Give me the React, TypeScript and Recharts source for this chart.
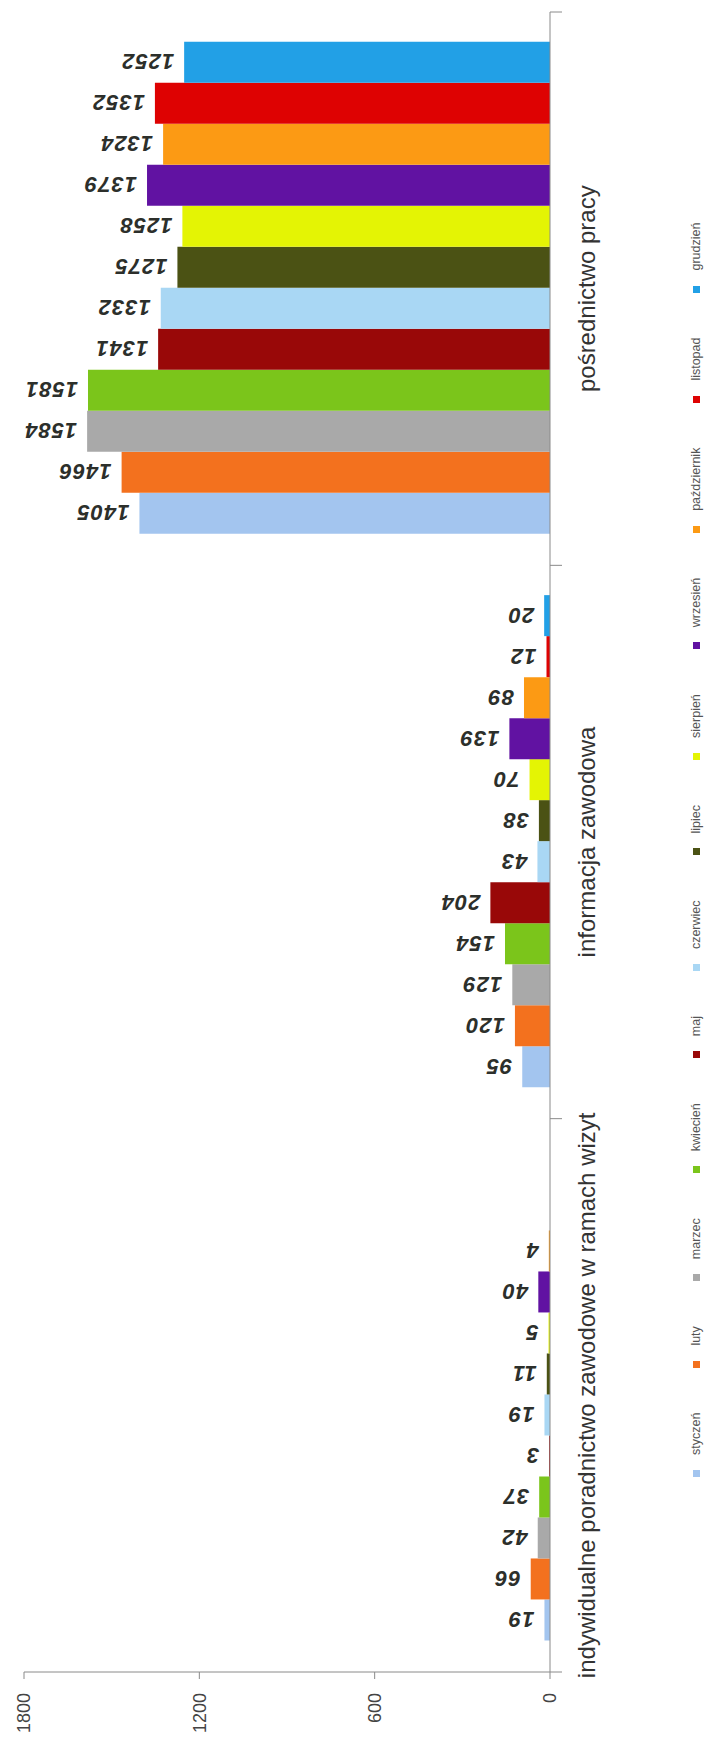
import React from 'react';
import { BarChart, Bar, XAxis, YAxis, Legend, LabelList } from 'recharts';

const categories = [
  'indywidualne poradnictwo zawodowe w ramach wizyt',
  'informacja zawodowa',
  'pośrednictwo pracy',
];
const months = [
  'styczeń', 'luty', 'marzec', 'kwiecień', 'maj', 'czerwiec',
  'lipiec', 'sierpień', 'wrzesień', 'październik', 'listopad', 'grudzień',
];
const monthColors = [
  '#a3c5ef', '#f3711e', '#a9a9a9', '#7bc51b', '#990808', '#a9d7f4',
  '#4b5214', '#e4f404', '#6112a2', '#fc9a14', '#de0202', '#22a0e6',
];
const poradnictwo = [19, 66, 42, 37, 3, 19, 11, 5, 40, 4, null, null];
const informacja = [95, 120, 129, 154, 204, 43, 38, 70, 139, 89, 12, 20];
const posrednictwo = [1405, 1466, 1584, 1581, 1341, 1332, 1275, 1258, 1379, 1324, 1352, 1252];
const valueTicks = [0, 600, 1200, 1800];

const seriesByCategory = [poradnictwo, informacja, posrednictwo];
const data = categories.map((name, i) => {
  const row: Record<string, string | number | null> = { name };
  months.forEach((_, j) => {
    row[`m${j}`] = seriesByCategory[i][j];
  });
  return row;
});

// the chart is drawn upright and then turned a quarter turn left, like the scan
const CHART_W = 1738;
const CHART_H = 713;
const Y_AXIS_W = 66;
const X_AXIS_H = 60;
const MARGIN = { top: 24, right: 12, bottom: 103, left: 0 };
const BAND = (CHART_W - Y_AXIS_W - MARGIN.left - MARGIN.right) / categories.length;
const FONT = '"Liberation Sans", Arial, sans-serif';
const AXIS_COLOR = '#8a8a8a';
const CAT_TICK = 12;
const CAT_MARGIN = 16;

const CategoryTick = (props: any) => {
  const { x, y, payload, index } = props;
  const axisY = y - CAT_TICK - CAT_MARGIN;
  return (
    <g>
      <line x1={x - BAND / 2} x2={x - BAND / 2} y1={axisY} y2={axisY + CAT_TICK} stroke={AXIS_COLOR} />
      {index === categories.length - 1 && (
        <line x1={x + BAND / 2} x2={x + BAND / 2} y1={axisY} y2={axisY + CAT_TICK} stroke={AXIS_COLOR} />
      )}
      <text x={x} y={y} dy="0.71em" textAnchor="middle" fontSize={24} fill="#333" fontFamily={FONT}>
        {payload.value}
      </text>
    </g>
  );
};

const ValueLabel = (props: any) => {
  const vb = props.viewBox ?? props;
  const x = vb.x ?? props.x;
  const y = vb.y ?? props.y;
  const width = vb.width ?? props.width;
  if (props.value == null || x == null) return null;
  const cx = x + width / 2;
  const ty = y - 10;
  return (
    <text
      x={cx}
      y={ty}
      transform={`rotate(-90 ${cx} ${ty})`}
      textAnchor="start"
      dy="0.36em"
      fontSize={22}
      fontWeight="bold"
      fontStyle="italic"
      letterSpacing={1}
      fill="#2c2f2b"
      fontFamily={FONT}
    >
      {props.value}
    </text>
  );
};

// keep the legend in month order (recharts sorts it by name otherwise)
const renderLegend = (props: any) => {
  const items = [...(props.payload ?? [])].sort(
    (a: any, b: any) => months.indexOf(a.value) - months.indexOf(b.value)
  );
  return (
    <div
      style={{
        position: 'absolute', left: 0, top: 0, display: 'flex', alignItems: 'center',
        whiteSpace: 'nowrap', fontFamily: FONT, fontSize: 12.5, color: '#555', lineHeight: '15px',
      }}
    >
      {items.map((item: any) => (
        <span key={item.value} style={{ display: 'flex', alignItems: 'center', marginRight: 45 }}>
          <span style={{ display: 'inline-block', width: 7, height: 7, background: item.color, marginRight: 15 }} />
          {item.value}
        </span>
      ))}
    </div>
  );
};

export default function App() {
  return (
    <div style={{ position: 'absolute', left: 0, top: 0, width: 713, height: 1738, overflow: 'hidden', background: '#fff' }}>
      <div
        style={{
          position: 'absolute', left: 0, top: 0, width: CHART_W, height: CHART_H,
          transformOrigin: '0 0', transform: `translate(0px, ${CHART_W}px) rotate(-90deg)`,
          fontFamily: FONT,
        }}
      >
        <BarChart width={CHART_W} height={CHART_H} data={data} margin={MARGIN} barCategoryGap="5.7%" barGap={0}>
          <XAxis
            dataKey="name"
            height={X_AXIS_H}
            interval={0}
            tickLine={false}
            tickSize={CAT_TICK}
            tickMargin={CAT_MARGIN}
            stroke={AXIS_COLOR}
            tick={(p: any) => <CategoryTick {...p} />}
          />
          <YAxis
            type="number"
            domain={[0, 1800]}
            ticks={valueTicks}
            interval={0}
            width={Y_AXIS_W}
            tickSize={7}
            tickMargin={14}
            stroke={AXIS_COLOR}
            tick={{ fontSize: 18, fill: '#444', fontFamily: FONT }}
          />
          <Legend
            content={renderLegend}
            wrapperStyle={{ left: 261, top: 689, width: 0, height: 0, bottom: 'auto', right: 'auto' }}
          />
          {months.map((m, j) => (
            <Bar key={m} dataKey={`m${j}`} name={m} fill={monthColors[j]} isAnimationActive={false}>
              <LabelList dataKey={`m${j}`} content={ValueLabel} />
            </Bar>
          ))}
        </BarChart>
      </div>
    </div>
  );
}
